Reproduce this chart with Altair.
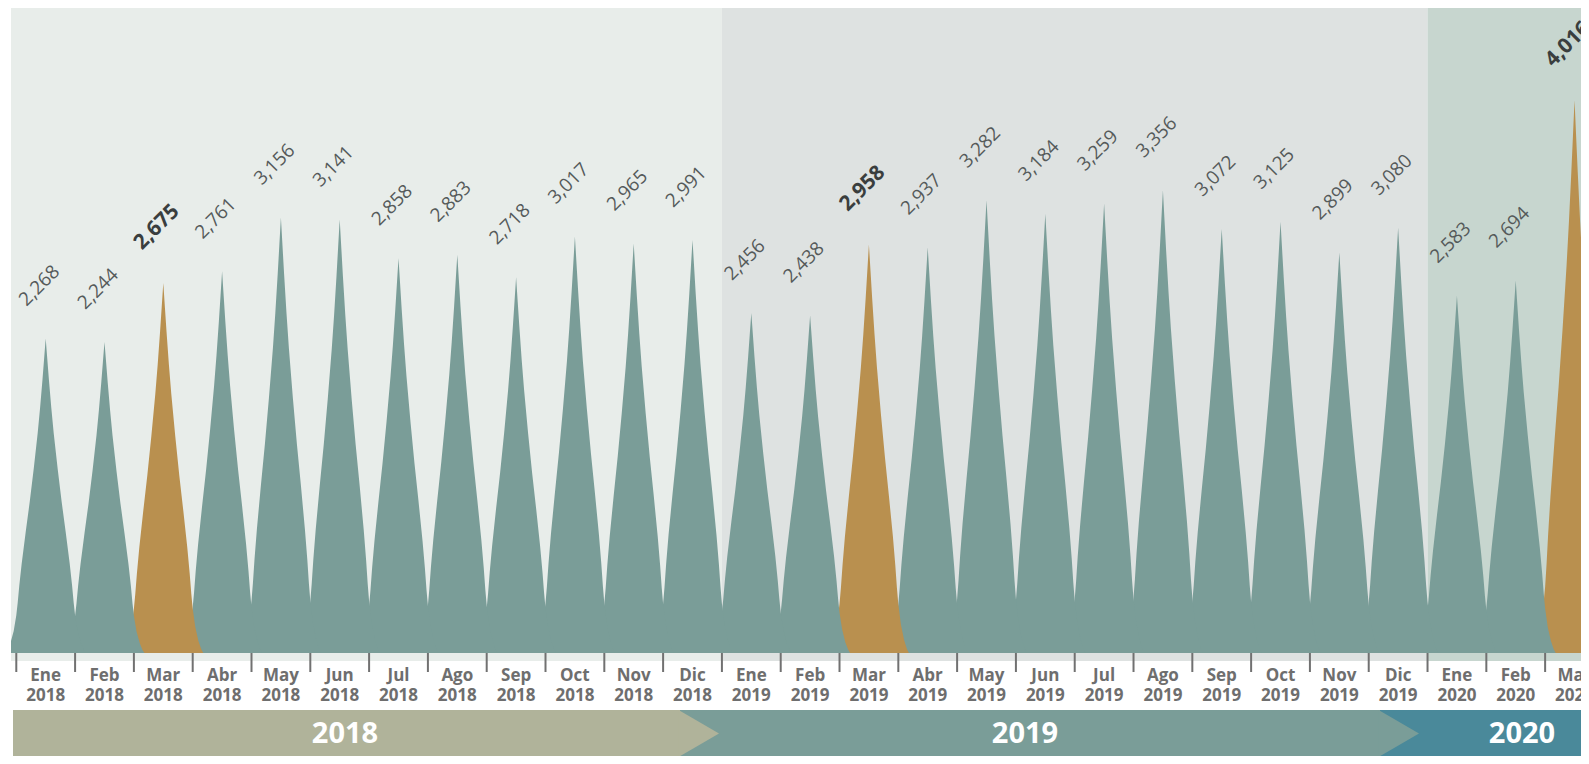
import altair as alt
import pandas as pd

# ---------------- data ----------------
months = ["Ene", "Feb", "Mar", "Abr", "May", "Jun", "Jul", "Ago", "Sep", "Oct", "Nov", "Dic",
          "Ene", "Feb", "Mar", "Abr", "May", "Jun", "Jul", "Ago", "Sep", "Oct", "Nov", "Dic",
          "Ene", "Feb", "Mar"]
years = [2018] * 12 + [2019] * 12 + [2020] * 3
values = [2268, 2244, 2675, 2761, 3156, 3141, 2858, 2883, 2718, 3017, 2965, 2991,
          2456, 2438, 2958, 2937, 3282, 3184, 3259, 3356, 3072, 3125, 2899, 3080,
          2583, 2694, 4016]
year_labels = ["2018", "2019", "2020"]

# ---------------- styles ----------------
TEAL = "#7a9d98"
ORANGE = "#b9904f"
BAND_COLORS = ["#e8edea", "#dee2e1", "#c7d6cf"]
BANNER_COLORS = ["#b0b39a", "#7a9d98", "#4a899a"]
PAD_L = 3
W, H = 1570, 645
X_DOMAIN = [-0.590, 26.11]
Y_BASE = -37
Y_DOMAIN = [Y_BASE, 4692]
HALF = 0.68  # half base width of a spike, in month units

# spike profile: (fraction of half width, fraction of height)
PROFILE = [(0.0, 1.0), (0.04, 0.935), (0.08, 0.87), (0.14, 0.78), (0.20, 0.70),
           (0.30, 0.585), (0.40, 0.48), (0.50, 0.385), (0.60, 0.285), (0.66, 0.215),
           (0.70, 0.16), (0.735, 0.12), (0.80, 0.07), (0.88, 0.032), (0.95, 0.01), (1.0, 0.0)]

n = len(values)
is_mar = [m == "Mar" for m in months]

rows = []
for i in reversed(range(n)):
    v = values[i]
    col = ORANGE if is_mar[i] else TEAL
    for sgn in (-1, 1):
        for u, f in PROFILE:
            if sgn == 1 and u == 0.0:
                continue
            rows.append({"k": n - i, "x": i + sgn * u * HALF,
                         "y": Y_BASE + (v - Y_BASE) * f, "y0": Y_BASE, "fill": col})
spikes_df = pd.DataFrame(rows)

xs = alt.Scale(domain=X_DOMAIN, nice=False, zero=False)
ys = alt.Scale(domain=Y_DOMAIN, nice=False, zero=False)

# background year bands
band_df = pd.DataFrame({"start": [X_DOMAIN[0], 11.5, 23.5], "end": [11.5, 23.5, 26.2],
                        "fill": BAND_COLORS})
bands = alt.Chart(band_df).mark_rect().encode(
    x=alt.X("start:Q", scale=xs, axis=None),
    x2="end:Q",
    y=alt.value(0), y2=alt.value(653),
    color=alt.Color("fill:N", scale=None),
)

spikes = alt.Chart(spikes_df).mark_area(clip=True, interpolate="linear").encode(
    x=alt.X("x:Q", scale=xs, axis=None),
    y=alt.Y("y:Q", scale=ys, axis=None, stack=None),
    y2="y0:Q",
    detail="k:N",
    color=alt.Color("fill:N", scale=None),
)

lab_df = pd.DataFrame({"i": list(range(n)), "v": values, "mar": is_mar,
                       "m": months, "yr": [str(y) for y in years]})

vlab = alt.Chart(lab_df).transform_filter("!datum.mar").mark_text(
    angle=315, align="center", baseline="middle", dx=33, dy=-42,
    font="Open Sans", fontSize=19, fontWeight="normal", color="#555a5a",
).encode(x=alt.X("i:Q", scale=xs, axis=None), y=alt.Y("v:Q", scale=ys, axis=None),
         text=alt.Text("v:Q", format=","))

vlab_b = alt.Chart(lab_df).transform_filter("datum.mar").mark_text(
    angle=315, align="center", baseline="middle", dx=35, dy=-44,
    font="Open Sans", fontSize=21, fontWeight="bold", color="#3a3e3e",
).encode(x=alt.X("i:Q", scale=xs, axis=None), y=alt.Y("v:Q", scale=ys, axis=None),
         text=alt.Text("v:Q", format=","))

tick_df = pd.DataFrame({"b": [i - 0.5 for i in range(n + 1)]})
ticks = alt.Chart(tick_df).mark_rule(color="#717171", strokeWidth=2).encode(
    x=alt.X("b:Q", scale=xs, axis=None), y=alt.value(645), y2=alt.value(664))

mlab = alt.Chart(lab_df).mark_text(
    align="center", baseline="middle",
    font="Open Sans", fontSize=17, fontWeight="bold", color="#6e6e6e",
).encode(x=alt.X("i:Q", scale=xs, axis=None), y=alt.value(668), text="m:N")

ylab = alt.Chart(lab_df).mark_text(
    align="center", baseline="middle",
    font="Open Sans", fontSize=17, fontWeight="bold", color="#6e6e6e",
).encode(x=alt.X("i:Q", scale=xs, axis=None), y=alt.value(688), text="yr:N")

one = pd.DataFrame({"a": [0]})


def rect(x1, x2, color):
    return alt.Chart(one).mark_rect(color=color).encode(
        x=alt.value(x1), x2=alt.value(x2), y=alt.value(702), y2=alt.value(749))


def tip(xc, color):
    return alt.Chart(one).mark_point(
        shape="M-1.06,-1L0.66,0L-1.06,1Z", size=2209, filled=True, opacity=1,
        color=color, strokeWidth=0).encode(x=alt.value(xc), y=alt.value(725.5))


banner = [
    rect(669, 1369, BANNER_COLORS[1]),
    rect(1369, W, BANNER_COLORS[2]),
    rect(2, 669, BANNER_COLORS[0]),
    tip(692.5, BANNER_COLORS[0]),
    tip(1392.5, BANNER_COLORS[1]),
]

ypos = [334, 1014, 1511]
ytexts = [
    alt.Chart(pd.DataFrame({"t": [yl]})).mark_text(
        font="Open Sans", fontSize=29, fontWeight="bold", color="white",
        align="center", baseline="middle").encode(
        x=alt.value(px), y=alt.value(726), text="t:N")
    for yl, px in zip(year_labels, ypos)
]

chart = alt.layer(
    bands, spikes, vlab, vlab_b, ticks, mlab, ylab, *banner, *ytexts
).properties(
    width=W, height=H,
    autosize=alt.AutoSizeParams(type="none"),
    padding={"left": PAD_L, "top": 0, "right": 0, "bottom": 103},
    background="white",
).configure_view(strokeWidth=0)

chart.save("out.html", embed_options={"renderer": "svg", "actions": False})
